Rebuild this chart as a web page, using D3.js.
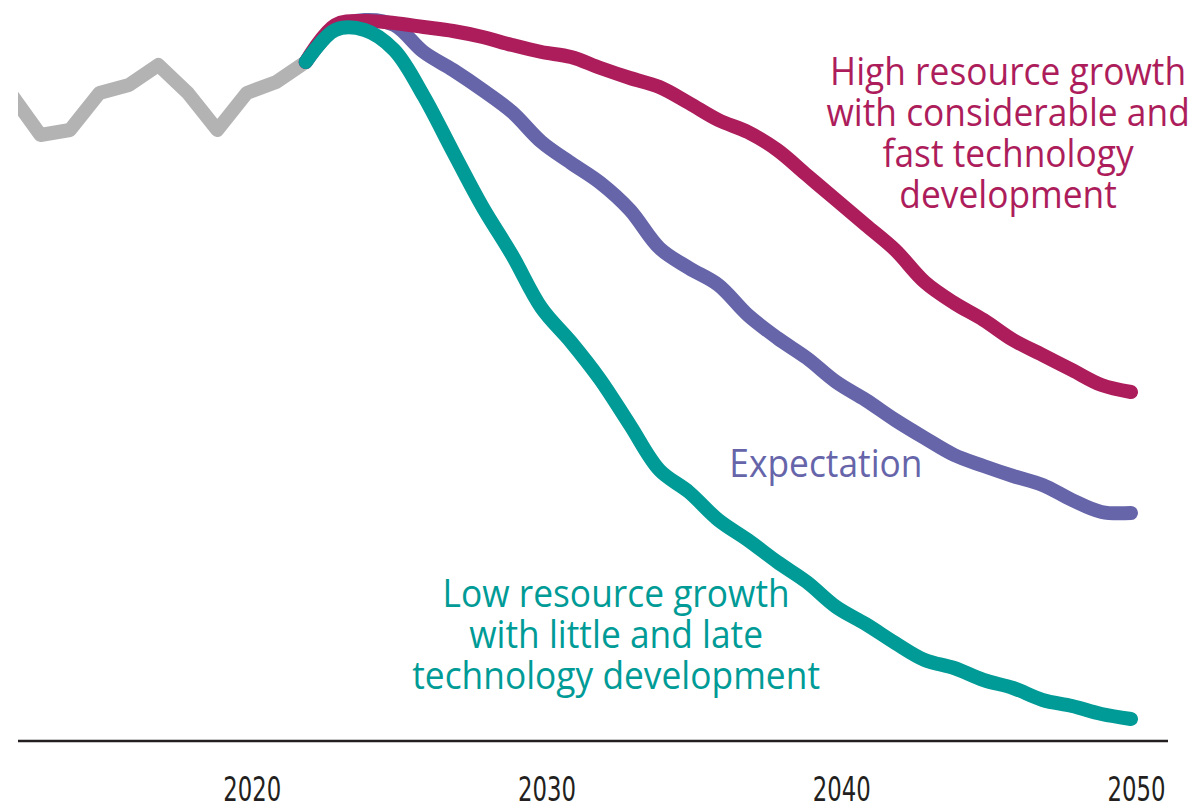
<!DOCTYPE html>
<html>
<head>
<meta charset="utf-8">
<script src="https://cdn.jsdelivr.net/npm/d3@7"></script>
<style>
    body { margin: 0; background: #fff; }
    #chart { width: 1195px; height: 808px; }
    .tick text { font-family: 'Liberation Sans Narrow', 'DejaVu Sans Condensed', sans-serif; fill: #231f20; }
    .label { font-family: 'Open Sans', 'Noto Sans', sans-serif; }
</style>
</head>
<body>
<div id="chart"></div>
<script>
//Datos (índice, eje sin escala visible)
const histYears = [2012, 2013, 2014, 2015, 2016, 2017, 2018, 2019, 2020, 2021, 2022];
const histValues = [64.6, 60.5, 61.0, 64.7, 65.5, 67.5, 64.7, 61.0, 64.7, 65.8, 67.8];

const scenYears = d3.range(2022, 2051);
const highValues = [67.8, 71.5, 71.9, 71.7, 71.3, 70.9, 70.3, 69.5, 68.8, 68.3, 67.2, 66.2, 65.3, 63.7, 62.0,
    60.8, 59.0, 56.5, 54.0, 51.5, 49.0, 45.8, 43.7, 42.0, 40.0, 38.5, 37.0, 35.5, 34.8];
const expectationValues = [67.8, 71.2, 72.0, 71.5, 68.8, 67.0, 65.0, 62.8, 59.8, 57.7, 55.7, 53.0, 49.2, 47.2, 45.5,
    42.5, 40.2, 38.2, 35.8, 34.0, 32.0, 30.2, 28.5, 27.4, 26.4, 25.5, 24.0, 22.8, 22.7];
const lowValues = [67.8, 71.0, 71.0, 69.0, 64.4, 58.8, 53.3, 48.5, 43.2, 39.8, 36.0, 31.5, 27.0, 24.8, 22.0,
    20.0, 17.8, 15.8, 13.3, 11.6, 9.7, 8.0, 7.2, 6.0, 5.2, 4.0, 3.4, 2.6, 2.1];

const tickYears = [2020, 2030, 2040, 2050];

const highLines = ['High resource growth', 'with considerable and', 'fast technology', 'development'];
const expectationLines = ['Expectation'];
const lowLines = ['Low resource growth', 'with little and late', 'technology development'];

//Colores fijos
const COLOR_HIST = '#b3b3b3',
COLOR_HIGH = '#ad1d5b',
COLOR_EXP = '#6665aa',
COLOR_LOW = '#009b96';

let width = 1195, height = 808;

let svg = d3.select('#chart')
    .append('svg')
        .attr('width', width)
        .attr('height', height);

let x = d3.scaleLinear()
    .domain([2012, 2050])
    .range([11, 1131]);

let y = d3.scaleLinear()
    .domain([0, 72])
    .range([740, 20]);

//Recorte a la izquierda (la serie histórica empieza cortada)
svg.append('clipPath')
    .attr('id', 'clip')
    .append('rect')
    .attr('x', 18)
    .attr('y', 0)
    .attr('width', width - 18)
    .attr('height', height);

//Eje X
let xAxis = function(g) {
    g.call(d3.axisBottom(x).tickValues(tickYears).tickSize(0).tickPadding(37).tickFormat(d3.format('d')));
    g.call(function(g){ g.select('.domain').remove(); });
    g.call(function(g){
        g.selectAll('.tick text')
            .attr('font-size', 34)
            .attr('dx', 5)
            .attr('textLength', 58)
            .attr('lengthAdjust', 'spacingAndGlyphs');
    });
}

svg.append('g')
    .attr('transform', 'translate(0,' + y(0) + ')')
    .call(xAxis);

svg.append('line')
    .attr('x1', 18)
    .attr('x2', 1168)
    .attr('y1', y(0) + 1)
    .attr('y2', y(0) + 1)
    .attr('stroke', '#231f20')
    .attr('stroke-width', 2.5);

//Líneas
let lineHist = d3.line()
    .x(function(d) { return x(d.year); })
    .y(function(d) { return y(d.value); });

let lineScen = d3.line()
    .x(function(d) { return x(d.year); })
    .y(function(d) { return y(d.value); })
    .curve(d3.curveCatmullRom.alpha(0.5));

function toPoints(years, values) {
    return years.map(function(d, i) { return {year: d, value: values[i]}; });
}

svg.append('path')
    .datum(toPoints(histYears, histValues))
    .attr('clip-path', 'url(#clip)')
    .attr('fill', 'none')
    .attr('stroke', COLOR_HIST)
    .attr('stroke-width', 14)
    .attr('stroke-linejoin', 'round')
    .attr('d', lineHist);

let series = [
    {values: expectationValues, color: COLOR_EXP},
    {values: highValues, color: COLOR_HIGH},
    {values: lowValues, color: COLOR_LOW}
];

series.forEach(function(s) {
    svg.append('path')
        .datum(toPoints(scenYears, s.values))
        .attr('fill', 'none')
        .attr('stroke', s.color)
        .attr('stroke-width', 14)
        .attr('stroke-linecap', 'round')
        .attr('stroke-linejoin', 'round')
        .attr('d', lineScen);
});

//Etiquetas
let labels = [
    {lines: highLines, color: COLOR_HIGH, year: 2045.83, value: 65.5},
    {lines: expectationLines, color: COLOR_EXP, year: 2039.65, value: 26.3},
    {lines: lowLines, color: COLOR_LOW, year: 2032.53, value: 13.3}
];

labels.forEach(function(l) {
    let t = svg.append('text')
        .attr('class', 'label')
        .attr('text-anchor', 'middle')
        .attr('fill', l.color)
        .attr('font-size', 38)
        .attr('transform', 'translate(' + x(l.year) + ',' + y(l.value) + ') scale(0.93,1)');

    t.selectAll('tspan')
        .data(l.lines)
        .enter()
        .append('tspan')
        .attr('x', 0)
        .attr('dy', function(d, i) { return i == 0 ? 0 : 41; })
        .text(function(d) { return d; });
});
</script>
</body>
</html>
